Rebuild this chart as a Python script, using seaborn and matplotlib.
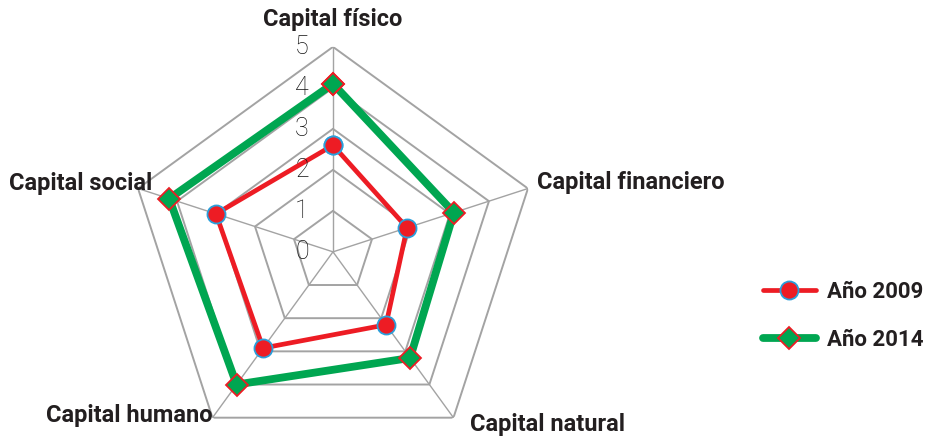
import numpy as np
import matplotlib.pyplot as plt
import seaborn as sns
from matplotlib.lines import Line2D

categories = ["Capital físico", "Capital financiero", "Capital natural",
              "Capital humano", "Capital social"]
values_2009 = [2.6, 1.9, 2.2, 2.9, 3.0]
values_2014 = [4.1, 3.1, 3.2, 4.0, 4.2]
ring_labels = ["0", "1", "2", "3", "4", "5"]
series_names = ["Año 2009", "Año 2014"]

RED = "#ED1C24"
GREEN = "#00A651"
BLUE = "#2A9FDB"
GRID = "#A3A3A3"

sns.set_theme(style="white")
plt.rcParams['font.family'] = ['Roboto', 'DejaVu Sans']

# angles: first axis straight up, going clockwise
n = len(categories)
theta = np.pi / 2 - np.arange(n) * 2 * np.pi / n
theta_closed = np.append(theta, theta[0] - 2 * np.pi)


def closed(vals):
    return np.append(vals, vals[0])


fig = plt.figure(figsize=(9.3, 4.38), dpi=100)
ax = fig.add_axes([0.1376, -0.043, 0.4409, 0.936], projection='polar')
ax.set_ylim(0, 5)
ax.grid(False)
ax.set_xticks([])
ax.set_yticks([])
ax.spines['polar'].set_visible(False)
ax.patch.set_alpha(0)

# pentagon grid
for k in range(1, 6):
    ax.plot(theta_closed, [k] * (n + 1), color=GRID, lw=1.4, zorder=1)
for t in theta:
    ax.plot([t, t], [0, 5], color=GRID, lw=1.0, zorder=1)

# series
sns.lineplot(x=theta_closed, y=closed(values_2009), ax=ax, sort=False,
             estimator=None, color=RED, lw=3.4, marker='o', markersize=13,
             markerfacecolor=RED, markeredgecolor=BLUE, markeredgewidth=1.3,
             zorder=3)
sns.lineplot(x=theta_closed, y=closed(values_2014), ax=ax, sort=False,
             estimator=None, color=GREEN, lw=5.6, marker='D', markersize=11,
             markerfacecolor=GREEN, markeredgecolor=RED, markeredgewidth=1.3,
             zorder=4)
ax.set_ylim(0, 5)

# ring numbers next to the top axis
for k, lab in enumerate(ring_labels):
    ax.annotate(lab, xy=(np.pi / 2, k), xytext=(-31, 0),
                textcoords='offset pixels', ha='center', va='center',
                fontsize=18, fontweight='light', color='#111111', zorder=5)

# category labels
offsets = [(0, 27, 'center'), (9, 6, 'left'), (17, -7, 'left'),
           (0, 2, 'right'), (14, 5, 'right')]
for t, name, (dx, dy, ha) in zip(theta, categories, offsets):
    ax.annotate(name, xy=(t, 5), xytext=(dx, dy), textcoords='offset pixels',
                ha=ha, va='center', fontsize=17, fontweight='bold',
                color='#231F20', annotation_clip=False)

handles = [
    Line2D([], [], color=RED, lw=3.4, marker='o', markersize=13,
           markerfacecolor=RED, markeredgecolor=BLUE, markeredgewidth=1.3),
    Line2D([], [], color=GREEN, lw=5.6, marker='D', markersize=11,
           markerfacecolor=GREEN, markeredgecolor=RED, markeredgewidth=1.3),
]
leg = fig.legend(handles, series_names, loc='center left',
                 bbox_to_anchor=(0.820, 0.278), frameon=False,
                 borderaxespad=0, borderpad=0, handlelength=2.4,
                 labelspacing=1.17, handletextpad=0.5,
                 prop={'size': 16, 'weight': 'bold'})
for txt in leg.get_texts():
    txt.set_color('#231F20')

fig.savefig("out.png", dpi=100)
plt.close(fig)
